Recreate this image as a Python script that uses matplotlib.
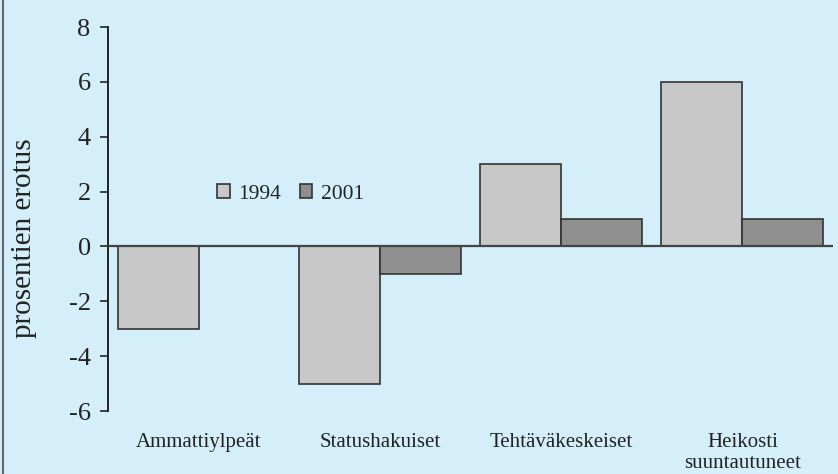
import matplotlib
matplotlib.use("Agg")
import matplotlib.pyplot as plt
import numpy as np
from matplotlib.lines import Line2D

plt.rcParams['font.family'] = ['Liberation Serif', 'DejaVu Serif']
plt.rcParams['axes.unicode_minus'] = False

categories = ["Ammattiylpeät", "Statushakuiset", "Tehtäväkeskeiset", "Heikosti\nsuuntautuneet"]
series_names = ["1994", "2001"]
values_1994 = [-3, -5, 3, 6]
values_2001 = [0, -1, 1, 1]
yticks = [-6, -4, -2, 0, 2, 4, 6, 8]

bg = "#d4eefa"
c1994 = "#c8c8c8"
c2001 = "#8f8f8f"
edge = "#333333"

fig = plt.figure(figsize=(8.38, 4.74), dpi=100, facecolor=bg)
ax = fig.add_axes([0.1289, 0.1329, 0.994 - 0.1289, 0.943 - 0.1329])
ax.set_facecolor(bg)

x = np.arange(len(categories))
w = 0.447
ax.bar(x - w, values_1994, width=w, align='edge', color=c1994, edgecolor=edge, linewidth=1.2, label=series_names[0], zorder=3)
ax.bar(x, values_2001, width=w, align='edge', color=c2001, edgecolor=edge, linewidth=1.2, label=series_names[1], zorder=3)

ax.axhline(0, color="#444444", linewidth=1.6, zorder=4)

ax.set_xlim(-0.5, 3.5)
ax.set_ylim(-6, 8)
ax.set_yticks(yticks)
ax.set_yticklabels([str(t) for t in yticks], fontsize=19, color="#222222")
ax.tick_params(axis='y', direction='out', length=5.5, width=1.2, color="#222222", pad=7)
ax.set_xticks(x)
ax.set_xticklabels(categories, fontsize=15, color="#222222", linespacing=1.1)
ax.tick_params(axis='x', length=0, pad=16)

for s in ['top', 'right', 'bottom']:
    ax.spines[s].set_visible(False)
ax.spines['left'].set_color("#222222")
ax.spines['left'].set_linewidth(1.4)

ax.set_ylabel("prosentien erotus", fontsize=21, color="#222222")
ax.yaxis.set_label_coords(-0.098, 0.45)

leg = ax.legend(loc='center', bbox_to_anchor=(0.252, 0.565), ncol=2, frameon=False,
                fontsize=15.5, handlelength=0.56, handleheight=0.56, handletextpad=0.42,
                columnspacing=0.85)
for txt in leg.get_texts():
    txt.set_color("#222222")

fig.add_artist(Line2D([0.004, 0.004], [0, 1], transform=fig.transFigure, color="#666666", linewidth=1.5))

fig.savefig("out.png", dpi=100, facecolor=bg)
